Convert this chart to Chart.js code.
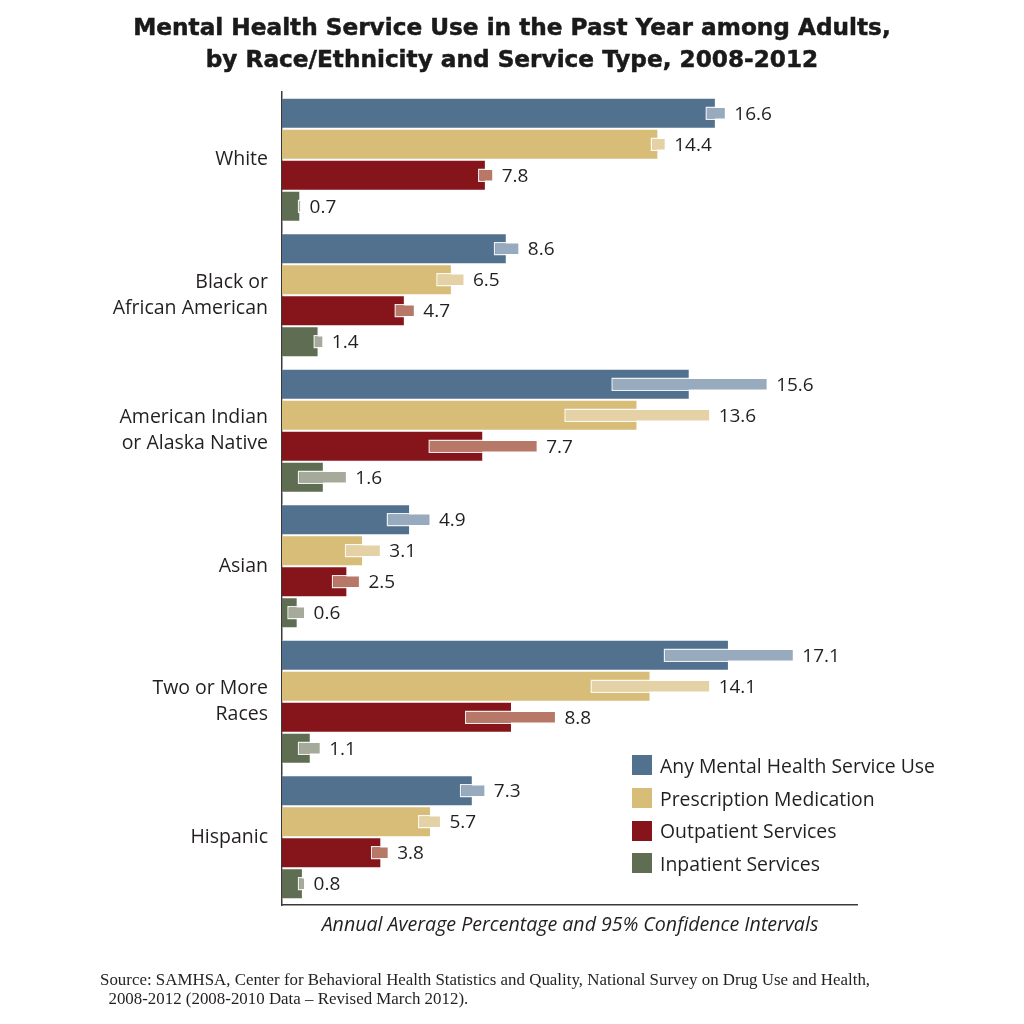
<!DOCTYPE html>
<html>
<head>
<meta charset="utf-8">
<script src="https://cdn.jsdelivr.net/npm/chart.js@4"></script>
<style>
  html, body { margin: 0; padding: 0; background: #ffffff; }
  #wrap { position: relative; width: 1024px; height: 1024px; }
  #title { position: absolute; left: 0; top: 11px; width: 1024px; text-align: center;
    font-family: "DejaVu Sans", sans-serif; font-weight: bold; font-size: 23.2px;
    line-height: 32px; color: #1a1a1a; -webkit-text-stroke: 0.5px #1a1a1a; }
  #legend { position: absolute; left: 632px; top: 749px; font-family: "Open Sans", sans-serif;
    font-size: 19.4px; color: #231f20; }
  .li { height: 32.7px; display: flex; align-items: center; white-space: nowrap; }
  .sw { width: 20px; height: 20px; margin-right: 8px; display: inline-block; }
  #xtitle { position: absolute; left: 220px; width: 700px; top: 910px; text-align: center;
    font-family: "Open Sans", sans-serif; font-style: italic; font-size: 19.6px; color: #231f20; }
  #source { position: absolute; left: 100px; top: 970px; font-family: "Liberation Serif", serif;
    font-size: 16.9px; line-height: 19px; color: #231f20; white-space: nowrap; }
</style>
</head>
<body>
<div id="wrap">
  <canvas id="c" width="1024" height="1024"></canvas>
  <div id="title">Mental Health Service Use in the Past Year among Adults,<br>by Race/Ethnicity and Service Type, 2008-2012</div>
  <div id="legend"></div>
  <div id="xtitle">Annual Average Percentage and 95% Confidence Intervals</div>
  <div id="source">Source: SAMHSA, Center for Behavioral Health Statistics and Quality, National Survey on Drug Use and Health,<br>&nbsp;&nbsp;2008-2012 (2008-2010 Data – Revised March 2012).</div>
</div>
<script>
// ---- data ----
const categories = ["White", ["Black or", "African American"], ["American Indian", "or Alaska Native"], "Asian", ["Two or More", "Races"], "Hispanic"];
const seriesNames = ["Any Mental Health Service Use", "Prescription Medication", "Outpatient Services", "Inpatient Services"];
const anyUse = [16.6, 8.6, 15.6, 4.9, 17.1, 7.3];
const prescription = [14.4, 6.5, 13.6, 3.1, 14.1, 5.7];
const outpatient = [7.8, 4.7, 7.7, 2.5, 8.8, 3.8];
const inpatient = [0.7, 1.4, 1.6, 0.6, 1.1, 0.8];
const anyLo = [16.2, 8.1, 12.6, 4.0, 14.6, 6.8];
const anyHi = [17.0, 9.1, 18.6, 5.7, 19.6, 7.8];
const rxLo = [14.1, 5.9, 10.8, 2.4, 11.8, 5.2];
const rxHi = [14.7, 7.0, 16.4, 3.8, 16.4, 6.1];
const outLo = [7.5, 4.3, 5.6, 1.9, 7.0, 3.4];
const outHi = [8.1, 5.1, 9.8, 3.0, 10.5, 4.1];
const inLo = [0.6, 1.2, 0.6, 0.2, 0.6, 0.6];
const inHi = [0.75, 1.6, 2.5, 0.9, 1.5, 0.9];
const xMax = 22;

const mainColors = ["#52718e", "#d8bd78", "#86141b", "#5f6e52"];
const ciColors = ["#98aabe", "#e4d1a5", "#b87868", "#a5aa9b"];

const mainValues = [anyUse, prescription, outpatient, inpatient];
const ciLows = [anyLo, rxLo, outLo, inLo];
const ciHighs = [anyHi, rxHi, outHi, inHi];

// legend
const leg = document.getElementById('legend');
seriesNames.forEach((n, i) => {
  const d = document.createElement('div'); d.className = 'li';
  d.innerHTML = '<span class="sw" style="background:' + mainColors[i] + '"></span>' + n;
  leg.appendChild(d);
});

const datasets = [];
for (let i = 0; i < 4; i++) {
  datasets.push({
    label: seriesNames[i] + ' CI',
    data: ciLows[i].map((lo, k) => [lo, ciHighs[i][k]]),
    backgroundColor: ciColors[i],
    borderColor: 'rgba(255,255,255,0.9)',
    borderWidth: 1.5,
    borderSkipped: false,
    stack: 's' + i,
    barPercentage: 0.43,
    categoryPercentage: 0.915,
    order: 0,
    isCI: true
  });
}
for (let i = 0; i < 4; i++) {
  datasets.push({
    label: seriesNames[i],
    data: mainValues[i],
    backgroundColor: mainColors[i],
    borderColor: 'rgba(255,255,255,0.55)',
    borderWidth: 1,
    borderSkipped: 'start',
    stack: 's' + i,
    barPercentage: 1.0,
    categoryPercentage: 0.915,
    order: 1,
    seriesIndex: i
  });
}

const labelPlugin = {
  id: 'valueLabels',
  afterDatasetsDraw(chart) {
    const ctx = chart.ctx;
    const xs = chart.scales.x;
    ctx.save();
    ctx.font = '19px "Open Sans", sans-serif';
    ctx.fillStyle = '#231f20';
    ctx.textAlign = 'left';
    ctx.textBaseline = 'middle';
    chart.data.datasets.forEach((ds, di) => {
      if (ds.isCI) return;
      const meta = chart.getDatasetMeta(di);
      const s = ds.seriesIndex;
      meta.data.forEach((bar, k) => {
        const v = mainValues[s][k];
        const end = Math.max(v, ciHighs[s][k]);
        const x = xs.getPixelForValue(end) + 8;
        ctx.fillText(v.toFixed(1), x, bar.y + 1);
      });
    });
    ctx.restore();
  }
};

new Chart(document.getElementById('c'), {
  type: 'bar',
  data: { labels: categories, datasets: datasets },
  plugins: [labelPlugin],
  options: {
    indexAxis: 'y',
    responsive: false,
    animation: false,
    layout: { padding: { top: 92, right: 167, bottom: 119, left: 0 } },
    plugins: { legend: { display: false }, tooltip: { enabled: false }, title: { display: false } },
    scales: {
      x: {
        min: 0, max: xMax,
        stacked: false,
        grid: { display: false, drawTicks: false },
        ticks: { display: false },
        border: { display: true, color: '#3a3a3a', width: 1.5 },
        afterFit: (s) => { s.height = 0; }
      },
      y: {
        grid: { display: false, drawTicks: false },
        border: { display: true, color: '#3a3a3a', width: 1.5 },
        ticks: { color: '#231f20', padding: 14, font: { family: '"Open Sans", sans-serif', size: 19.5, lineHeight: 1.33 } },
        afterFit: (s) => { s.width = 282; }
      }
    }
  }
});
</script>
</body>
</html>
